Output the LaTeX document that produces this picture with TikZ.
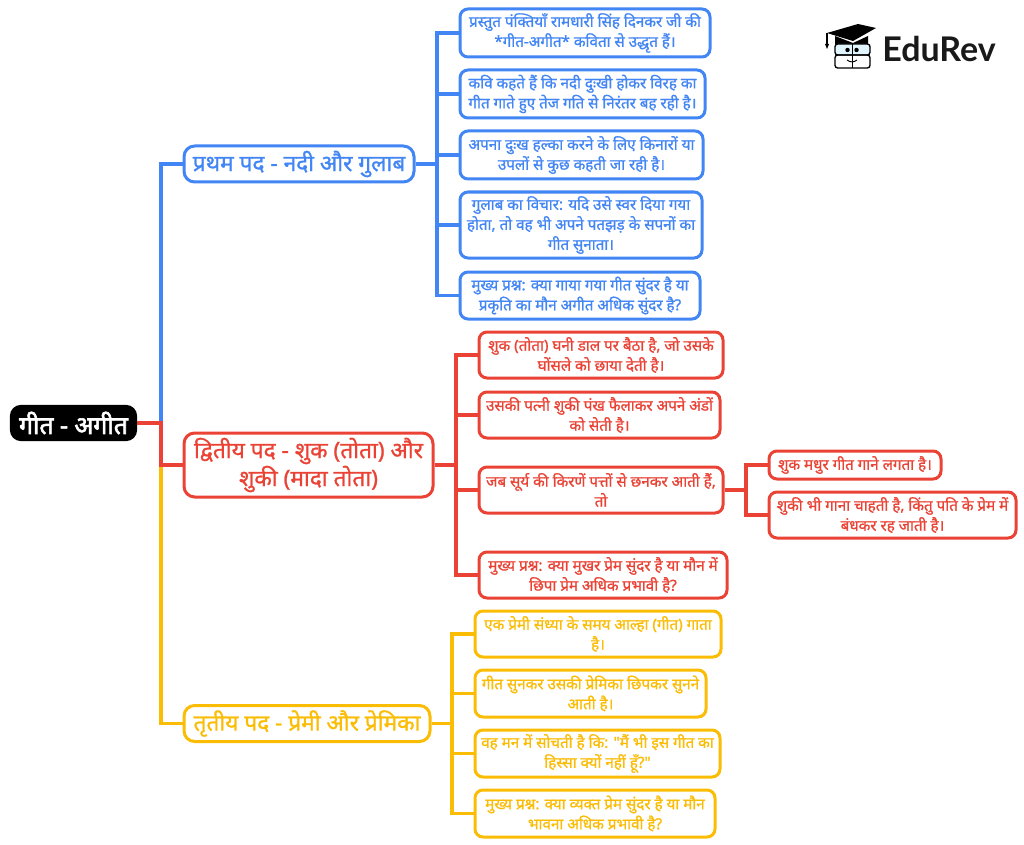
\documentclass[tikz,border=0pt]{standalone}
\usepackage{fontspec}
\newfontfamily\hi[Script=Devanagari,RawFeature={embolden=1.0}]{Noto Sans}
\newfontfamily\hib[Script=Devanagari,RawFeature={embolden=2.5}]{Noto Sans}
\newfontfamily\logofont{Lato}
\definecolor{cblue}{HTML}{4285F4}
\definecolor{cred}{HTML}{EA4335}
\definecolor{cyel}{HTML}{FBBC04}
\tikzset{
  boxbase/.style={draw=#1,text=#1,fill=white,line width=2.25pt,rounded corners=6pt,inner sep=0pt,align=center},
  leaf/.style={boxbase=#1,font=\hi\fontsize{11.4pt}{15pt}\selectfont},
  branch/.style={boxbase=#1,rounded corners=8pt,font=\hi\fontsize{17pt}{21pt}\selectfont},
  rootbox/.style={draw=black,fill=black,text=white,line width=1pt,rounded corners=8pt,inner sep=0pt,font=\hib\fontsize{18.6pt}{21pt}\selectfont},
  conn/.style={draw=#1,line width=2.5pt},
}
\newcommand{\bx}[7]{\node[#1,minimum width={(#4-#2)*0.75pt},minimum height={(#5-#3)*0.75pt}] (#6) at ({(#2+#4)/2},{(#3+#5)/2}) {#7};}
\begin{document}
\begin{tikzpicture}[x=0.75pt,y=-0.75pt]
\useasboundingbox (0,0) rectangle (1024,845);
\coordinate (j0) at (161,423);
\coordinate (j1) at (161,465);
\coordinate (jb) at (437,164);
\coordinate (jr) at (456,465);
\coordinate (jy) at (452,723.5);
\coordinate (jn) at (746,490);
\bx{rootbox}{10.5}{405.5}{136.5}{440.5}{root}{गीत - अगीत}
\bx{branch=cblue}{184}{146}{414}{182}{p1}{प्रथम पद - नदी और गुलाब}
\bx{branch=cred}{184}{433}{433}{497}{p2}{द्वितीय पद - शुक (तोता) और\\शुकी (मादा तोता)}
\bx{branch=cyel}{184}{705.5}{430}{741.5}{p3}{तृतीय पद - प्रेमी और प्रेमिका}
\bx{leaf=cblue}{460}{9}{710}{57}{b1}{प्रस्तुत पंक्तियाँ रामधारी सिंह दिनकर जी की\\*गीत-अगीत* कविता से उद्धृत हैं।}
\bx{leaf=cblue}{460}{70}{705}{118}{b2}{कवि कहते हैं कि नदी दुःखी होकर विरह का\\गीत गाते हुए तेज गति से निरंतर बह रही है।}
\bx{leaf=cblue}{460}{131}{703}{179}{b3}{अपना दुःख हल्का करने के लिए किनारों या\\उपलों से कुछ कहती जा रही है।}
\bx{leaf=cblue}{460}{192}{702}{258}{b4}{गुलाब का विचार: यदि उसे स्वर दिया गया\\होता, तो वह भी अपने पतझड़ के सपनों का\\गीत सुनाता।}
\bx{leaf=cblue}{460}{272}{700}{319}{b5}{मुख्य प्रश्न: क्या गाया गया गीत सुंदर है या\\प्रकृति का मौन अगीत अधिक सुंदर है?}
\bx{leaf=cred}{479}{332}{723}{378}{r1}{शुक (तोता) घनी डाल पर बैठा है, जो उसके\\घोंसले को छाया देती है।}
\bx{leaf=cred}{479}{392}{720}{438}{r2}{उसकी पत्नी शुकी पंख फैलाकर अपने अंडों\\को सेती है।}
\bx{leaf=cred}{479}{467}{723}{513}{r3}{जब सूर्य की किरणें पत्तों से छनकर आती हैं,\\तो}
\bx{leaf=cred}{479}{552}{727}{598}{r4}{मुख्य प्रश्न: क्या मुखर प्रेम सुंदर है या मौन में\\छिपा प्रेम अधिक प्रभावी है?}
\bx{leaf=cred}{769}{451}{941}{479}{n1}{शुक मधुर गीत गाने लगता है।}
\bx{leaf=cred}{769}{492}{1016}{538}{n2}{शुकी भी गाना चाहती है, किंतु पति के प्रेम में\\बंधकर रह जाती है।}
\bx{leaf=cyel}{475}{611}{721}{657}{y1}{एक प्रेमी संध्या के समय आल्हा (गीत) गाता\\है।}
\bx{leaf=cyel}{475}{670}{706}{717}{y2}{गीत सुनकर उसकी प्रेमिका छिपकर सुनने\\आती है।}
\bx{leaf=cyel}{475}{730}{720}{777}{y3}{वह मन में सोचती है कि: "मैं भी इस गीत का\\हिस्सा क्यों नहीं हूँ?"}
\bx{leaf=cyel}{475}{790}{715}{837}{y4}{मुख्य प्रश्न: क्या व्यक्त प्रेम सुंदर है या मौन\\भावना अधिक प्रभावी है?}
\draw[conn=cblue] (j0) |- (p1.west);
\draw[conn=cyel] (j1) |- (p3.west);
\draw[conn=cred] (root.east) -| (j1) -- (p2.west);
\draw[conn=cblue] (p1.east) -- (jb);
\foreach \n in {b1,b2,b3,b4,b5} \draw[conn=cblue] (jb) |- (\n.west);
\draw[conn=cred] (p2.east) -- (jr);
\foreach \n in {r1,r2,r3,r4} \draw[conn=cred] (jr) |- (\n.west);
\draw[conn=cyel] (p3.east) -- (jy);
\foreach \n in {y1,y2,y3,y4} \draw[conn=cyel] (jy) |- (\n.west);
\draw[conn=cred] (r3.east) -- (jn);
\foreach \n in {n1,n2} \draw[conn=cred] (jn) |- (\n.west);
\node[font=\logofont\bfseries\fontsize{25.5pt}{30pt}\selectfont,text=black!90,anchor=base west,inner sep=0pt] (edurev) at (882,62) {EduRev};
\fill[black] (827,33) -- (858,24) -- (876,28) -- (853,41) -- cycle;
\fill[black] (835,36) -- (835,44) -- (868,44) -- (868,36) -- (853,43) -- cycle;
\draw[black,line width=0.8pt] (827,33) -- (827,44);
\fill[black] (825,44) -- (829,44) -- (827,49) -- cycle;
\draw[black,line width=1pt,rounded corners=2pt,fill=cyan!12] (835,44) rectangle (870,55);
\draw[black,line width=1pt,rounded corners=2pt] (835,55) rectangle (870,68);
\draw[black,line width=0.8pt] (852.5,44) -- (852.5,68);
\fill[black] (847.5,50) circle (2.2);
\fill[black] (856.5,50) circle (2.2);
\draw[black,line width=0.7pt] (847,60) .. controls (850,62.5) and (854,62.5) .. (857,60);
\end{tikzpicture}
\end{document}
